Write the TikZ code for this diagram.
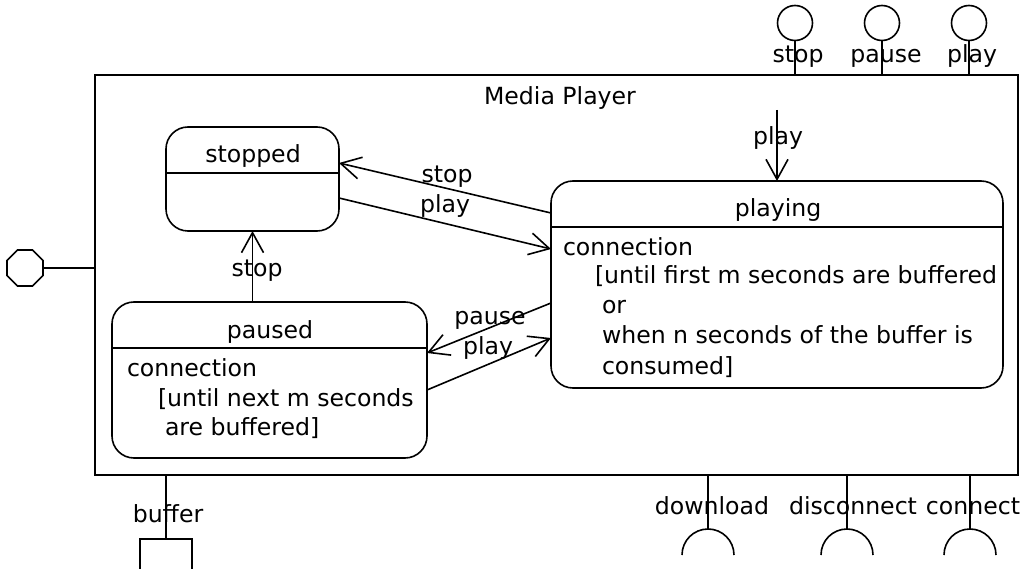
\documentclass[tikz,border=0pt]{standalone}
\usepackage{fontspec}
\setmainfont{DejaVu Sans}
\usetikzlibrary{arrows.meta,shapes.geometric}
\begin{document}
\begin{tikzpicture}[x=1pt,y=-1pt,
  every node/.style={inner sep=0pt, outer sep=0pt},
  txt/.style={font=\fontsize{23.6}{28}\selectfont, anchor=base},
  txtw/.style={txt, anchor=base west},
  ln/.style={line width=1.6pt},
  box/.style={draw, ln, anchor=north west},
  state/.style={box, rounded corners=22pt},
  arr/.style={ln, -{Straight Barb[length=20pt,width=22pt,line width=1.6pt]}},
  port/.style={draw, ln, circle, minimum size=35pt},
]
\useasboundingbox (0,0) rectangle (1023,569);

% container
\node[box, minimum width=923pt, minimum height=400pt] (outer) at (95,75) {};
\node[txt] (title) at (560,105) {Media Player};

% states
\node[state, minimum width=173pt, minimum height=104pt] (stopped) at (166,127) {};
\node[state, minimum width=452pt, minimum height=207pt] (playing) at (551,181) {};
\node[state, minimum width=315pt, minimum height=156pt] (paused) at (112,302) {};
\draw[ln] (stopped.west |- 0,173) -- (stopped.east |- 0,173);
\draw[ln] (playing.west |- 0,227) -- (playing.east |- 0,227);
\draw[ln] (paused.west |- 0,348) -- (paused.east |- 0,348);

\node[txt] (tstopped) at (253,163) {stopped};
\node[txt] (tplaying) at (778,217) {playing};
\node[txt] (tpaused) at (270,338) {paused};

\node[txtw] (pa1) at (127,377) {connection};
\node[txtw] (pa2) at (158,406) {[until next m seconds};
\node[txtw] (pa3) at (165,435) {are buffered]};

\node[txtw] (pl1) at (563,256) {connection};
\node[txtw] (pl2) at (595,284) {[until first m seconds are buffered};
\node[txtw] (pl3) at (602,314) {or};
\node[txtw] (pl4) at (602,344) {when n seconds of the buffer is};
\node[txtw] (pl5) at (602,374) {consumed]};

% transitions
\draw[arr] (playing.west |- 0,213) -- (stopped.east |- 0,163);
\draw[arr] (stopped.east |- 0,198) -- (playing.west |- 0,249);
\draw[arr] (playing.west |- 0,303) -- (paused.east |- 0,353);
\draw[arr] (paused.east |- 0,390) -- (playing.west |- 0,338);
\draw[arr] (stopped.south |- paused.north) -- (stopped.south);
\coordinate (pstart) at (777,110);
\draw[arr] (pstart) -- (pstart |- playing.north);

\node[txt] (lstop1) at (447,183) {stop};
\node[txt] (lplay1) at (445,213) {play};
\node[txt] (lpause) at (490,325) {pause};
\node[txt] (lplay2) at (488,355) {play};
\node[txt] (lstop2) at (257,277) {stop};
\node[txt] (lplay3) at (778,145) {play};

% provided ports (top)
\node[port] (cstop) at (795,23) {};
\node[port] (cpause) at (882,23) {};
\node[port] (cplay) at (969,23) {};
\draw[ln] (cstop.south) -- (cstop.south |- outer.north);
\draw[ln] (cpause.south) -- (cpause.south |- outer.north);
\draw[ln] (cplay.south) -- (cplay.south |- outer.north);
\node[txt] (lcstop) at (798,63) {stop};
\node[txt] (lcpause) at (886,63) {pause};
\node[txt] (lcplay) at (972,63) {play};

% left port
\node[draw, ln, regular polygon, regular polygon sides=8, minimum size=39pt] (oct) at (25,268) {};
\draw[ln] (oct.east) -- (oct.east -| outer.west);

% buffer
\coordinate (bt) at (166,539);
\draw[ln] (bt |- outer.south) -- (bt);
\draw[ln] (140,569) -- (140,539) -- (192,539) -- (192,569);
\node[txt] (lbuffer) at (168,522) {buffer};

% required ports (bottom)
\coordinate (rdl) at (708,529);
\coordinate (rdc) at (847,529);
\coordinate (rco) at (970,529);
\draw[ln] (rdl |- outer.south) -- (rdl);
\draw[ln] (rdc |- outer.south) -- (rdc);
\draw[ln] (rco |- outer.south) -- (rco);
\draw[ln] (682,555) arc[start angle=180, end angle=0, radius=26pt];
\draw[ln] (821,555) arc[start angle=180, end angle=0, radius=26pt];
\draw[ln] (944,555) arc[start angle=180, end angle=0, radius=26pt];
\node[txt] (ldl) at (712,514) {download};
\node[txt] (ldc) at (853,514) {disconnect};
\node[txt] (lco) at (973,514) {connect};
\end{tikzpicture}
\end{document}
